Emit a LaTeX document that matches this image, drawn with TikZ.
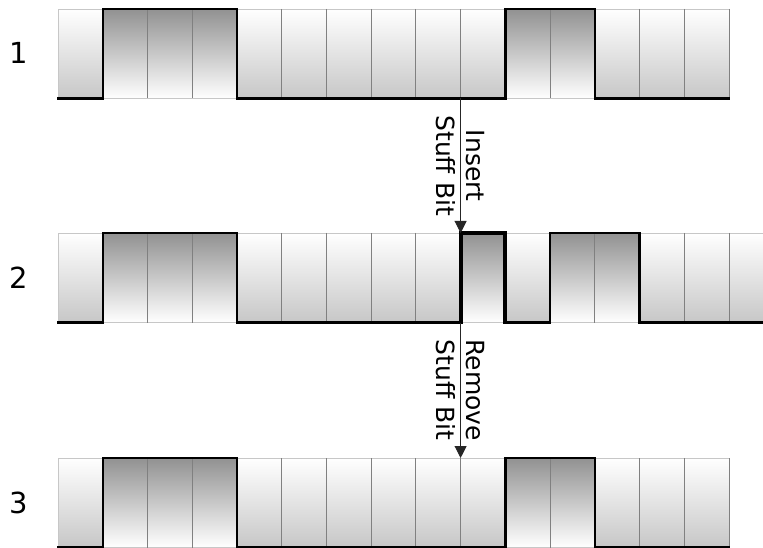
\documentclass[tikz,border=0pt]{standalone}
\usepackage{fontspec}
\setmainfont{DejaVu Sans}
\usetikzlibrary{arrows.meta}
\tikzset{
  lowcell/.style={top color=white, bottom color=black!22, draw=black!22, line width=0.8pt},
  highcell/.style={top color=black!43, bottom color=white, draw=black!22, line width=0.8pt},
  sepline/.style={draw=black!50, line width=0.8pt},
  wave/.style={line width=2.4pt, line join=miter, line cap=rect},
  stuffwave/.style={line width=3.8pt, line join=miter, line cap=rect},
  arr/.style={-{Triangle[width=12pt,length=12pt]}, line width=0.9pt, draw=black!85},
  lab/.style={font=\fontsize{25}{30}\selectfont, rotate=-90, align=center, inner sep=0pt},
  rownum/.style={font=\fontsize{29}{33}\selectfont}
}
\def\W{44.733}
\newcommand{\cellrow}[2]{%
  \foreach \t [count=\i from 0] in {#2} {%
    \pgfmathsetmacro\xa{58+\i*\W}%
    \pgfmathsetmacro\xb{58+(\i+1)*\W}%
    \if\t H\relax
      \shade[highcell] (\xa,#1) rectangle (\xb,#1+89.5);
    \else
      \shade[lowcell] (\xa,#1) rectangle (\xb,#1+89.5);
    \fi
  }%
  \foreach \t [count=\i from 1] in {#2} {%
    \pgfmathsetmacro\xa{58+\i*\W}%
    \draw[sepline] (\xa,#1) -- (\xa,#1+89.5);
  }%
}
\begin{document}
\begin{tikzpicture}[x=1pt,y=-1pt]
\clip (0,0) rectangle (763,548);
\fill[white] (0,0) rectangle (763,548);

% cells
\cellrow{9}{L,H,H,H,L,L,L,L,L,L,H,H,L,L,L}
\cellrow{233}{L,H,H,H,L,L,L,L,L,H,L,H,H,L,L,L}
\cellrow{458}{L,H,H,H,L,L,L,L,L,L,H,H,L,L,L}

% waves
\draw[wave] (58,98.5) -- (102.7,98.5) -- (102.7,9) -- (236.9,9) -- (236.9,98.5)
  -- (505.3,98.5) -- (505.3,9) -- (594.8,9) -- (594.8,98.5) -- (729,98.5);
\draw[wave] (58,322.5) -- (102.7,322.5) -- (102.7,233) -- (236.9,233) -- (236.9,322.5)
  -- (460.6,322.5);
\draw[stuffwave] (460.6,322.5) -- (460.6,233) -- (505.3,233) -- (505.3,322.5);
\draw[wave] (505.3,322.5) -- (550,322.5) -- (550,233) -- (639.5,233) -- (639.5,322.5)
  -- (770,322.5);
\draw[wave] (58,547.5) -- (102.7,547.5) -- (102.7,458) -- (236.9,458) -- (236.9,547.5)
  -- (505.3,547.5) -- (505.3,458) -- (594.8,458) -- (594.8,547.5) -- (729,547.5);

% row numbers
\node[rownum] (n1) at (19,53) {1};
\node[rownum] (n2) at (19,278) {2};
\node[rownum] (n3) at (19,503) {3};

% arrows
\coordinate (a1) at (460.6,98.5);
\coordinate (b1) at (460.6,233);
\coordinate (a2) at (460.6,322.5);
\coordinate (b2) at (460.6,458);
\draw[arr] (a1) -- node[lab] (l1) {Insert\\Stuff Bit} (b1);
\draw[arr] (a2) -- node[lab] (l2) {Remove\\Stuff Bit} (b2);
\end{tikzpicture}
\end{document}
